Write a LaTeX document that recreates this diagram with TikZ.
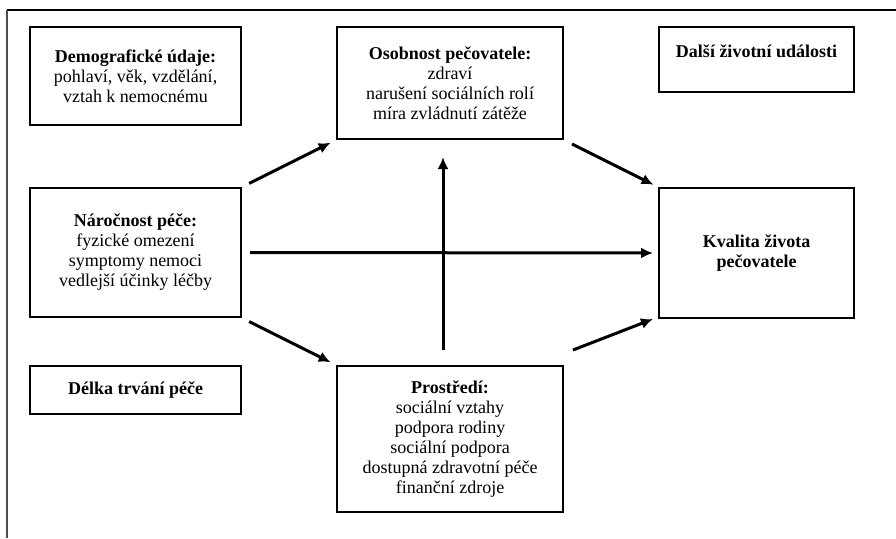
\documentclass[tikz,border=0pt]{standalone}
\usepackage{fontspec}
\setmainfont{Liberation Serif}
\usetikzlibrary{arrows.meta}
\tikzset{>={Latex[length=12pt,width=11pt]}}
\tikzset{blok/.style={draw,line width=2pt,align=center,inner sep=0pt,font=\fontsize{18}{20}\selectfont},
  pil/.style={->,line width=3pt}}

\begin{document}
\begin{tikzpicture}[x=1pt,y=-1pt]
  \useasboundingbox (0,0) rectangle (896,538);
  \draw[line width=1.5pt] (7,10) -- (896,10);
  \draw[line width=2pt,black!70] (7,538) -- (7,10);
  % boxes
  \node[blok,minimum width=211pt,minimum height=98pt] (demo) at (135.5,76) {\textbf{Demografické údaje:}\\pohlaví, věk, vzdělání,\\vztah k nemocnému};
  \node[blok,minimum width=226pt,minimum height=112pt] (osob) at (450,83) {\textbf{Osobnost pečovatele:}\\zdraví\\narušení sociálních rolí\\míra zvládnutí zátěže};
  \node[blok,minimum width=195pt,minimum height=65pt,text depth=17pt] (dalsi) at (756.5,59.5) {\textbf{Další životní události}};
  \node[blok,minimum width=211pt,minimum height=129pt] (naro) at (135.5,252.5) {\textbf{Náročnost péče:}\\fyzické omezení\\symptomy nemoci\\vedlejší účinky léčby};
  \node[blok,minimum width=195pt,minimum height=130pt] (kval) at (756.5,253) {\textbf{Kvalita života}\\\textbf{pečovatele}};
  \node[blok,minimum width=211pt,minimum height=48pt] (delka) at (135.5,390) {\textbf{Délka trvání péče}};
  \node[blok,minimum width=226pt,minimum height=146pt] (prost) at (450,439) {\textbf{Prostředí:}\\sociální vztahy\\podpora rodiny\\sociální podpora\\dostupná zdravotní péče\\finanční zdroje};
  % arrows
  \draw[pil,shorten <=8pt,shorten >=6pt] (naro.north east) -- (osob.south west);
  \draw[pil,shorten <=8pt,shorten >=5pt] (naro.east) -- (kval.west);
  \draw[pil,shorten <=8pt,shorten >=6pt] (naro.south east) -- (osob.south west |- prost.north);
  \draw[pil,shorten <=9pt,shorten >=5pt] (osob.south east) -- (kval.north west);
  \draw[pil] ([shift={(9,-15)}]prost.north east) -- ([xshift=-5pt]kval.south west);
  \draw[pil,shorten <=15pt,shorten >=17pt] ([xshift=-7pt]prost.north) -- ([xshift=-7pt]osob.south);
\end{tikzpicture}
\end{document}
